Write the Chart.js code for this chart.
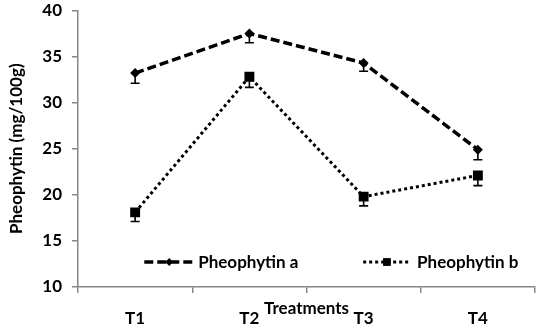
<!DOCTYPE html>
<html>
<head>
<meta charset="utf-8">
<script src="https://cdn.jsdelivr.net/npm/chart.js@4.4.0/dist/chart.umd.min.js"></script>
<style>
  html, body { margin: 0; padding: 0; background: #fff; }
  #wrap { width: 542px; height: 330px; position: relative; }
</style>
</head>
<body>
<div id="wrap"><canvas id="c"></canvas></div>
<script>
const categories = ['T1', 'T2', 'T3', 'T4'];
const pheophytinA = [33.2, 37.5, 34.3, 24.9];
const pheophytinB = [18.1, 32.8, 19.8, 22.1];
const errorA = [1.1, 1.0, 0.9, 1.1];
const errorB = [1.0, 1.15, 1.0, 1.1];
const yTicks = [10, 15, 20, 25, 30, 35, 40];
const seriesLabels = ['Pheophytin a', 'Pheophytin b'];
const xTitle = 'Treatments';
const yTitle = 'Pheophytin (mg/100g)';

const FONT = 'Lato';
const AXIS = '#868686';

const errorBars = {
  id: 'errorBars',
  afterDatasetsDraw(chart) {
    const ctx = chart.ctx;
    const y = chart.scales.y;
    ctx.save();
    ctx.strokeStyle = '#000';
    ctx.lineWidth = 1.6;
    chart.data.datasets.forEach((ds, i) => {
      const meta = chart.getDatasetMeta(i);
      meta.data.forEach((pt, j) => {
        const v = ds.data[j];
        const e = ds.errors[j];
        const yTop = y.getPixelForValue(v);
        const yLow = y.getPixelForValue(v - e);
        ctx.beginPath();
        ctx.moveTo(pt.x, yTop);
        ctx.lineTo(pt.x, yLow);
        ctx.moveTo(pt.x - 4.5, yLow);
        ctx.lineTo(pt.x + 4.5, yLow);
        ctx.stroke();
      });
    });
    ctx.restore();
  }
};

const insideLegend = {
  id: 'insideLegend',
  afterDraw(chart) {
    const ctx = chart.ctx;
    const a = chart.chartArea;
    const w = a.right - a.left;
    const ly = a.bottom - 25;
    const items = [
      { x0: a.left + w * 0.145, x1: a.left + w * 0.254, tx: a.left + w * 0.263 },
      { x0: a.left + w * 0.624, x1: a.left + w * 0.728, tx: a.left + w * 0.742 }
    ];
    ctx.save();
    chart.data.datasets.forEach((ds, i) => {
      const it = items[i];
      ctx.strokeStyle = '#000';
      ctx.lineWidth = ds.borderWidth;
      ctx.setLineDash(ds.borderDash);
      ctx.beginPath();
      ctx.moveTo(it.x0, ly);
      ctx.lineTo(it.x1, ly);
      ctx.stroke();
      ctx.setLineDash([]);
      Chart.helpers.drawPoint(ctx, {
        pointStyle: ds.pointStyle,
        radius: ds.pointRadius * 0.75,
        borderWidth: 0,
        rotation: 0
      }, (it.x0 + it.x1) / 2, ly);
      ctx.fillStyle = '#000';
      ctx.fill();
      ctx.font = 'bold 17px ' + FONT;
      ctx.textAlign = 'left';
      ctx.textBaseline = 'middle';
      ctx.fillText(ds.label, it.tx, ly + 1);
    });
    ctx.restore();
  }
};

new Chart(document.getElementById('c'), {
  type: 'line',
  data: {
    labels: categories,
    datasets: [
      {
        label: seriesLabels[0],
        data: pheophytinA,
        errors: errorA,
        borderColor: '#000',
        backgroundColor: '#000',
        borderWidth: 3.5,
        borderDash: [9, 4],
        pointStyle: 'rectRot',
        pointRadius: 5,
        pointBorderWidth: 0,
        tension: 0
      },
      {
        label: seriesLabels[1],
        data: pheophytinB,
        errors: errorB,
        borderColor: '#000',
        backgroundColor: '#000',
        borderWidth: 3,
        borderDash: [3, 3],
        pointStyle: 'rect',
        pointRadius: 7,
        pointBorderWidth: 0,
        tension: 0
      }
    ]
  },
  options: {
    responsive: true,
    maintainAspectRatio: false,
    animation: false,
    devicePixelRatio: 1,
    layout: { padding: { top: 0, right: 4, bottom: 0, left: 0 } },
    plugins: {
      legend: { display: false },
      tooltip: { enabled: false }
    },
    scales: {
      x: {
        offset: true,
        afterFit(scale) {
          scale.paddingLeft = 0;
          scale.paddingRight = 0;
        },
        grid: {
          offset: true,
          drawOnChartArea: false,
          drawTicks: true,
          tickLength: 6,
          color: AXIS,
          lineWidth: 1.5
        },
        border: { display: true, color: AXIS, width: 1.5 },
        ticks: {
          color: '#000',
          padding: 15,
          font: { family: FONT, size: 17, weight: 'bold' }
        },
        title: {
          display: true,
          text: xTitle,
          color: '#000',
          font: { family: FONT, size: 17, weight: 'bold' },
          padding: { top: -44.6, bottom: 10.8 }
        }
      },
      y: {
        min: 10,
        max: 40,
        afterBuildTicks(scale) {
          scale.ticks = yTicks.map(v => ({ value: v }));
        },
        grid: {
          drawOnChartArea: false,
          drawTicks: true,
          tickLength: 6,
          color: AXIS,
          lineWidth: 1.5
        },
        border: { display: true, color: AXIS, width: 1.5 },
        ticks: {
          color: '#000',
          padding: 10,
          font: { family: FONT, size: 17, weight: 'bold', lineHeight: 0.05 }
        },
        title: {
          display: true,
          text: yTitle,
          color: '#000',
          font: { family: FONT, size: 17, weight: 'bold' },
          padding: { top: 6.3, bottom: 5.6 }
        }
      }
    }
  },
  plugins: [errorBars, insideLegend]
});
</script>
</body>
</html>
